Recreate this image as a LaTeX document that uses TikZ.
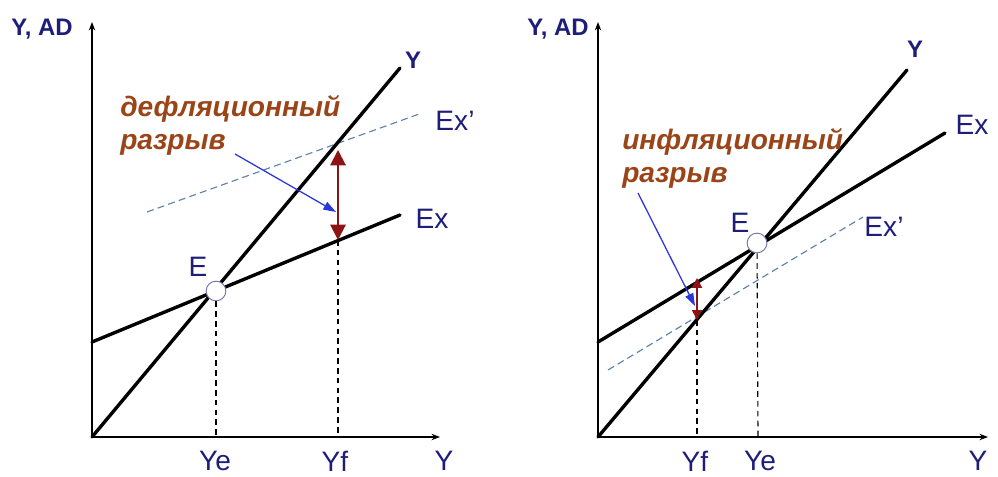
\documentclass[tikz,border=0pt]{standalone}
\usepackage{fontspec}
\setmainfont{Liberation Sans}
\usetikzlibrary{arrows.meta}

\definecolor{navy}{HTML}{1E1E78}
\definecolor{rust}{HTML}{9A4418}
\definecolor{gapred}{HTML}{8C1414}
\definecolor{ptblue}{HTML}{2A36D8}
\definecolor{exdash}{HTML}{5F82AA}

\tikzset{
  axis/.style={line width=1pt, -{Stealth[length=6pt,width=4.5pt]}},
  curve/.style={line width=2.4pt, line cap=round},
  guide/.style={line width=0.8pt, dashed, dash pattern=on 4pt off 3pt},
  shifted/.style={line width=0.8pt, exdash, dash pattern=on 5pt off 3pt},
  gap/.style={line width=1.4pt, gapred, {Triangle[length=#1,width=#1]}-{Triangle[length=#1,width=#1]}},
  pointer/.style={line width=0.9pt, ptblue, -{Triangle[length=9pt,width=6pt]}},
  eqpt/.style={circle, draw=navy!60, fill=white, line width=0.7pt, minimum size=14pt, inner sep=0pt},
  lbl/.style={text=navy, font=\fontsize{20}{24}\selectfont, inner sep=0pt},
  axlbl/.style={text=navy, font=\fontsize{17}{20}\selectfont\bfseries, inner sep=0pt},
  note/.style={text=rust, font=\fontsize{20}{23.4}\selectfont\bfseries\itshape, align=left, inner sep=0pt}
}

\begin{document}
\begin{tikzpicture}[x=0.025cm, y=-0.025cm]
  \useasboundingbox (0,0) rectangle (998,477);

  % Deflationary gap
  \coordinate (o1) at (92,437);
  \draw[axis] (o1) -- (92,22);
  \draw[axis] (o1) -- (440,437);
  \node[axlbl] (yad1) at (42,29) {Y, AD};
  \node[lbl] (yax1) at (444,461) {Y};

  \draw[shifted] (147,212) -- (422,113);
  \draw[curve] (o1) -- (400,68);
  \draw[curve] (92,342) -- (400,215);
  \node[axlbl] (ylab1) at (413,60) {Y};
  \node[lbl] (exs1) at (455,121) {Ex'};
  \node[lbl] (ex1) at (432,219) {Ex};

  \node[eqpt] (e1) at (216,291) {};
  \node[lbl] (elab1) at (198,267) {E};
  \coordinate (ye1) at (216,437);
  \coordinate (yf1) at (338,437);
  \coordinate (top1) at (338,150);
  \coordinate (bot1) at (338,240);
  \draw[guide] (e1) -- (ye1);
  \draw[guide] (bot1) -- (yf1);
  \node[lbl] (yelab1) at (215,461) {Ye};
  \node[lbl] (yflab1) at (335,461) {Yf};

  \draw[gap=11pt] (top1) -- (bot1);
  \node[note, anchor=north west] (note1) at (120,95) {дефляционный\\разрыв};
  \coordinate (from1) at (235,154);
  \coordinate (to1) at (336,212);
  \draw[pointer] (from1) -- (to1);

  % Inflationary gap
  \coordinate (o2) at (598,437);
  \draw[axis] (o2) -- (598,22);
  \draw[axis] (o2) -- (988,437);
  \node[axlbl] (yad2) at (558,29) {Y, AD};
  \node[lbl] (yax2) at (978,461) {Y};

  \draw[shifted] (608,370) -- (863,217);
  \draw[curve] (o2) -- (907,70);
  \draw[curve] (598,342) -- (945,133);
  \node[axlbl] (ylab2) at (915,49) {Y};
  \node[lbl] (ex2) at (972,125) {Ex};
  \node[lbl] (exs2) at (884,227) {Ex'};

  \node[eqpt] (e2) at (757,243) {};
  \node[lbl] (elab2) at (740,223) {E};
  \coordinate (ye2) at (758,437);
  \coordinate (yf2) at (697,437);
  \coordinate (top2) at (697,278);
  \coordinate (bot2) at (697,320);
  \draw[guide] (e2) -- (ye2);
  \draw[guide] (bot2) -- (yf2);
  \node[lbl] (yflab2) at (695,461) {Yf};
  \node[lbl] (yelab2) at (760,461) {Ye};

  \draw[gap=7pt] (top2) -- (bot2);
  \node[note, anchor=north west] (note2) at (622,128) {инфляционный\\разрыв};
  \coordinate (from2) at (638,193);
  \coordinate (to2) at (695,306);
  \draw[pointer] (from2) -- (to2);
\end{tikzpicture}
\end{document}
